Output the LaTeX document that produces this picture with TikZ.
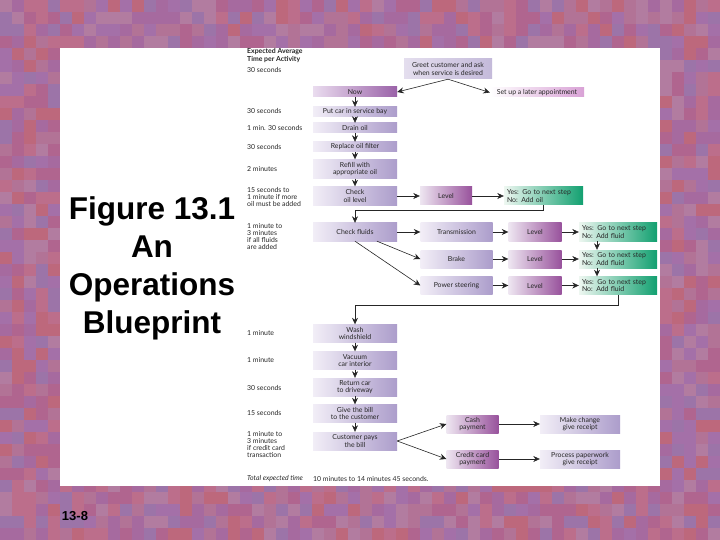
\documentclass[tikz,border=0pt]{standalone}
\usepackage{fontspec}
\setmainfont{Lato}
\newfontfamily\titlefont{Liberation Sans}
\usetikzlibrary{arrows.meta}
\definecolor{lavL}{HTML}{F2EEF7}
\definecolor{lavR}{HTML}{AC9DCB}
\definecolor{magL}{HTML}{EEE6F1}
\definecolor{magR}{HTML}{98529C}
\definecolor{grnL}{HTML}{EEF7F1}
\definecolor{grnR}{HTML}{12A070}
\definecolor{nowL}{HTML}{EADCEF}
\definecolor{nowR}{HTML}{9A62A8}
\definecolor{pinkR}{HTML}{D9A2D6}
\definecolor{greetL}{HTML}{E4DEEE}
\definecolor{greetR}{HTML}{C4BADA}
\definecolor{c1}{HTML}{B0658F}
\definecolor{c2}{HTML}{A66A9F}
\definecolor{c3}{HTML}{BC6E8B}
\definecolor{c4}{HTML}{9C74A8}
\definecolor{c5}{HTML}{B27396}
\definecolor{c6}{HTML}{BD687C}
\definecolor{c7}{HTML}{A470A8}
\definecolor{c8}{HTML}{B27CA0}
\newcommand\bxfont{\fontsize{6.9}{7.3}\selectfont}
\tikzset{
  bx/.style={inner sep=0pt, align=center, font=\bxfont, text=black!85},
  lav/.style={bx, left color=lavL, right color=lavR},
  mag/.style={bx, left color=magL, right color=magR},
  grn/.style={bx, left color=grnL, right color=grnR, align=left},
  colbox/.style={lav, minimum width=84pt},
  arr/.style={-{Stealth[length=6.5pt,width=6pt]}, line width=0.6pt, black!85},
  tm/.style={anchor=west, align=left, font=\bxfont, inner sep=0pt, text=black!85}
}
\begin{document}
\begin{tikzpicture}[x=1pt,y=-1pt]
\useasboundingbox (0,0) rectangle (720,540);
% mosaic background
\pgfmathsetseed{11}
\foreach \i in {0,...,59}{\foreach \j in {0,...,44}{%
  \pgfmathrandominteger{\rr}{1}{8}%
  \fill[fill=c\rr] (\i*12,\j*12) rectangle ++(12.5,12.5);}}
\fill[white] (60,48) rectangle (660,486);

% title
\node[font=\titlefont\bfseries\fontsize{31.5}{38}\selectfont, align=center] (title) at (152,268)
  {Figure 13.1\\An\\Operations\\Blueprint};
\node[font=\titlefont\bfseries\fontsize{13}{15}\selectfont] (pg) at (75,516) {13-8};

% time column
\node[tm, font=\bxfont\bfseries] (hdr) at (247,55.5) {Expected Average\\Time per Activity};
\node[tm] (t0) at (247,70) {30 seconds};
\node[tm] (t1) at (247,111) {30 seconds};
\node[tm] (t2) at (247,128) {1 min. 30 seconds};
\node[tm] (t3) at (247,147) {30 seconds};
\node[tm] (t4) at (247,169) {2 minutes};
\node[tm] (t5) at (247,197) {15 seconds to\\1 minute if more\\oil must be added};
\node[tm] (t6) at (247,236.5) {1 minute to\\3 minutes\\if all fluids\\are added};
\node[tm] (t7) at (247,333) {1 minute};
\node[tm] (t8) at (247,360) {1 minute};
\node[tm] (t9) at (247,388) {30 seconds};
\node[tm] (t10) at (247,413) {15 seconds};
\node[tm] (t11) at (247,444.5) {1 minute to\\3 minutes\\if credit card\\transaction};
\node[tm, font=\bxfont\itshape] (tot) at (247,479) {Total expected time};
\node[tm] (tot2) at (313,479) {10 minutes to 14 minutes 45 seconds.};

% main column
\node[colbox, left color=nowL, right color=nowR, minimum height=10pt] (now) at (355,92) {Now};
\node[colbox, minimum height=10pt] (put) at (355,112) {Put car in service bay};
\node[colbox, minimum height=10pt] (drain) at (355,128) {Drain oil};
\node[colbox, minimum height=10pt] (repl) at (355,147) {Replace oil filter};
\node[colbox, minimum height=19pt] (refill) at (355,169) {Refill with\\appropriate oil};
\node[colbox, minimum height=19pt] (chkoil) at (355,196) {Check\\oil level};
\node[colbox, minimum height=18pt] (chkfl) at (355,232) {Check fluids};
\node[colbox, minimum height=18pt] (wash) at (355,333.5) {Wash\\windshield};
\node[colbox, minimum height=18pt] (vac) at (355,360.5) {Vacuum\\car interior};
\node[colbox, minimum height=18pt] (ret) at (355,387) {Return car\\to driveway};
\node[colbox, minimum height=18pt] (give) at (355,413.5) {Give the bill\\to the customer};
\node[colbox, minimum height=18pt] (cust) at (355,441) {Customer pays\\the bill};

% top right
\node[bx, left color=greetL, right color=greetR, minimum width=88pt, minimum height=20pt] (greet) at (448,69)
  {Greet customer and ask\\when service is desired};
\node[bx, left color=white, right color=pinkR, minimum width=94pt, minimum height=9pt] (later) at (537,92.5)
  {Set up a later appointment};

% oil level
\node[mag, minimum width=52pt, minimum height=18pt] (oillev) at (446,196) {Level};
\node[grn, minimum width=79pt, minimum height=18pt, text width=73pt] (oilyes) at (543.5,196)
  {Yes: Go to next step\\No: Add oil};

% fluids
\node[lav, minimum width=72pt, minimum height=18pt] (trans) at (456.5,232) {Transmission};
\node[lav, minimum width=72pt, minimum height=18pt] (brake) at (456.5,259) {Brake};
\node[lav, minimum width=72pt, minimum height=18pt] (power) at (456.5,285.5) {Power steering};
\node[mag, minimum width=53pt, minimum height=18pt] (lev1) at (535,232) {Level};
\node[mag, minimum width=53pt, minimum height=18pt] (lev2) at (535,259) {Level};
\node[mag, minimum width=53pt, minimum height=18pt] (lev3) at (535,285.5) {Level};
\node[grn, minimum width=78pt, minimum height=18pt, text width=72pt] (yes1) at (618,232) {Yes: Go to next step\\No: Add fluid};
\node[grn, minimum width=78pt, minimum height=18pt, text width=72pt] (yes2) at (618,259) {Yes: Go to next step\\No: Add fluid};
\node[grn, minimum width=78pt, minimum height=18pt, text width=72pt] (yes3) at (618,285.5) {Yes: Go to next step\\No: Add fluid};

% payment
\node[mag, minimum width=52pt, minimum height=18pt] (cash) at (472.5,424) {Cash\\payment};
\node[mag, minimum width=52pt, minimum height=18pt] (cred) at (472.5,459) {Credit card\\payment};
\node[lav, minimum width=80pt, minimum height=18pt] (change) at (580,424) {Make change\\give receipt};
\node[lav, minimum width=80pt, minimum height=18pt] (paper) at (580,459) {Process paperwork\\give receipt};

% coordinates for bends
\coordinate (j1) at (355,210);
\coordinate (j2) at (355,305);

% connectors
\draw[arr] (greet.south) -- (now.east);
\draw[arr] (greet.south) -- (later.west);
\draw[arr] (now) -- (put);
\draw[arr] (put) -- (drain);
\draw[arr] (drain) -- (repl);
\draw[arr] (repl) -- (refill);
\draw[arr] (refill) -- (chkoil);
\draw[arr] (chkoil) -- (oillev);
\draw[arr] (oillev) -- (oilyes);
\draw[arr] (oilyes.south) |- (j1) -- (chkfl.north);
\draw[arr] (chkfl) -- (trans);
\draw[arr] ([xshift=22pt]chkfl.south) -- (brake.west);
\draw[arr] (chkfl.south) -- (power.west);
\draw[arr] (trans) -- (lev1);
\draw[arr] (brake) -- (lev2);
\draw[arr] (power) -- (lev3);
\draw[arr] (lev1) -- (yes1);
\draw[arr] (lev2) -- (yes2);
\draw[arr] (lev3) -- (yes3);
\draw[arr] ([xshift=-21pt]yes1.south) -- ([xshift=-21pt]yes2.north);
\draw[arr] ([xshift=-21pt]yes2.south) -- ([xshift=-21pt]yes3.north);
\draw[arr] (yes3.south) |- (j2) -- (wash.north);
\draw[arr] (wash) -- (vac);
\draw[arr] (vac) -- (ret);
\draw[arr] (ret) -- (give);
\draw[arr] (give) -- (cust);
\draw[arr] (cust.east) -- (cash.west);
\draw[arr] (cust.east) -- (cred.west);
\draw[arr] (cash) -- (change);
\draw[arr] (cred) -- (paper);
\end{tikzpicture}
\end{document}
